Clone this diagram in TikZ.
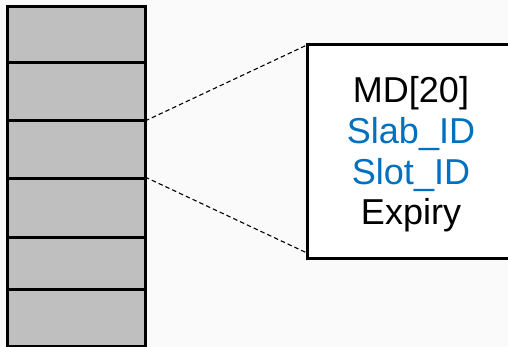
\documentclass[tikz,border=0pt]{standalone}
\usepackage{fontspec}
\setmainfont{Liberation Sans}
\usetikzlibrary{calc}
\definecolor{bgpaper}{RGB}{250,250,250}
\definecolor{slotgray}{RGB}{191,191,191}
\definecolor{fieldblue}{RGB}{0,112,192}
\tikzset{
  slotbox/.style={draw=black, fill=slotgray, line width=3pt, minimum width=137.5pt, inner sep=0pt, outer sep=0pt},
  entrybox/.style={draw=black, fill=white, line width=3pt, minimum width=213pt, minimum height=213pt, inner sep=0pt, outer sep=0pt},
  field/.style={font=\fontsize{36}{41}\selectfont, anchor=base, inner sep=0pt},
  zoomline/.style={draw=black, line width=1.1pt, dash pattern=on 4.5pt off 3pt}
}
\begin{document}
\begin{tikzpicture}[x=1pt, y=-1pt]
  \useasboundingbox (0,0) rectangle (508,347);
  \clip (0,0) rectangle (508,347);
  \fill[bgpaper] (0,0) rectangle (508,347);

  % column of slots
  \node[slotbox, minimum height=56pt] (s1) at (76.25,35) {};
  \node[slotbox, minimum height=58pt] (s2) at (76.25,92) {};
  \node[slotbox, minimum height=58pt] (s3) at (76.25,150) {};
  \node[slotbox, minimum height=58pt] (s4) at (76.25,208) {};
  \node[slotbox, minimum height=52pt] (s5) at (76.25,263) {};
  \node[slotbox, minimum height=57pt] (s6) at (76.25,317.5) {};

  % expanded slot entry
  \node[entrybox] (entry) at (413.5,151.5) {};
  \coordinate (entrylow) at ($(entry.south west)+(0,-5)$);

  % zoom lines from the third slot to the entry
  \draw[zoomline] (s3.north east) -- (entry.north west);
  \draw[zoomline] ($(s3.south east)+(0,-2)$) -- (entrylow);

  % fields of the entry
  \node[field] (md) at (411,103) {MD[20]};
  \node[field, text=fieldblue] (slab) at (411,143.7) {Slab\_ID};
  \node[field, text=fieldblue] (slot) at (411,184.4) {Slot\_ID};
  \node[field] (exp) at (411,225) {Expiry};
\end{tikzpicture}
\end{document}
